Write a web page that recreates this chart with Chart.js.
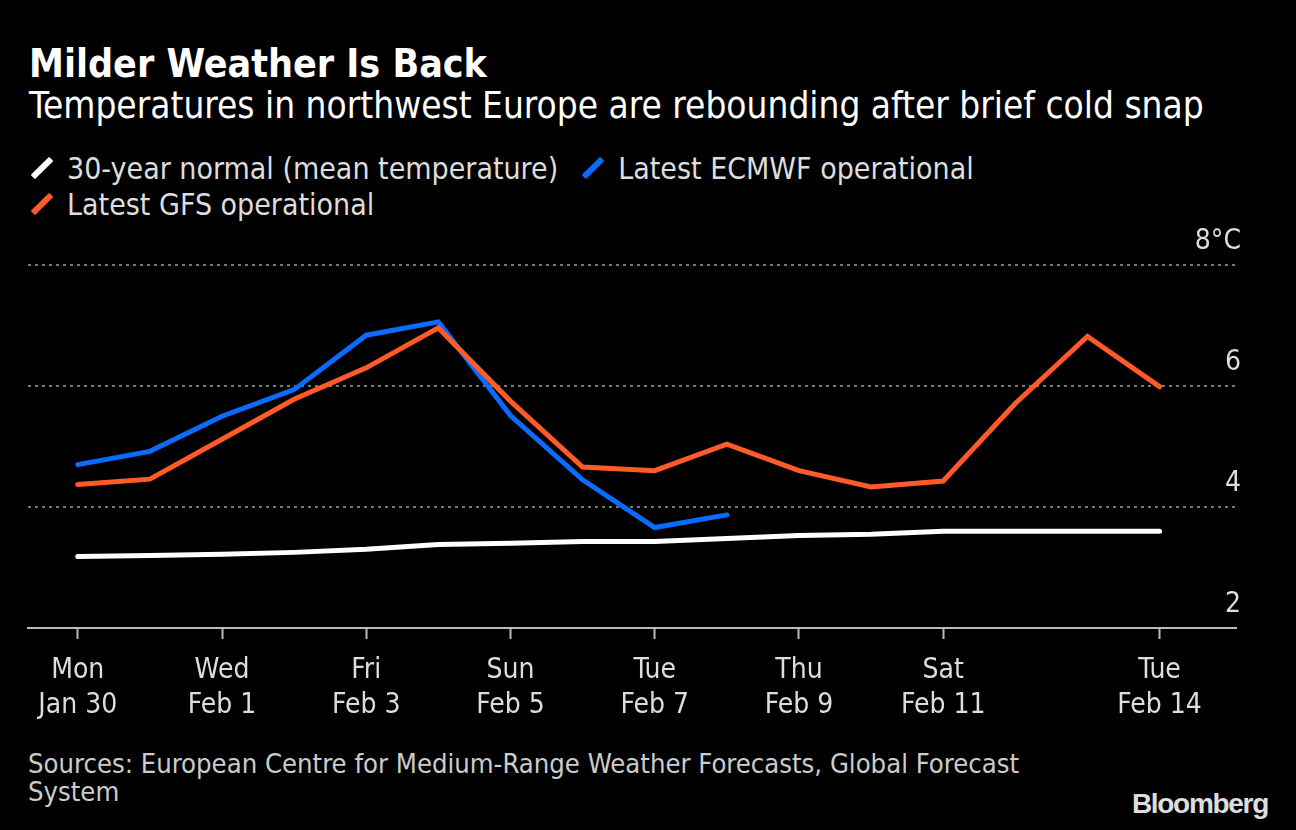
<!DOCTYPE html>
<html>
<head>
<meta charset="utf-8">
<script src="https://cdn.jsdelivr.net/npm/chart.js@4/dist/chart.umd.min.js"></script>
<style>
  body { margin: 0; background: #000; width: 1296px; height: 830px; overflow: hidden; position: relative;
         font-family: "DejaVu Sans Condensed", "DejaVu Sans", sans-serif; color: #ddd; }
  #title { position: absolute; left: 29px; top: 41px; font-size: 39px; font-weight: bold; color: #fff; }
  #subtitle { position: absolute; left: 29px; top: 84px; font-size: 36.7px; color: #fff; }
  #legend { position: absolute; left: 26px; top: 150px; width: 1000px; display: flex; flex-wrap: wrap; }
  .item { display: flex; align-items: center; margin-right: 19px; font-size: 30px; height: 36px; }
  .mark { width: 6px; height: 26px; transform: rotate(45deg); margin: 0 22px 0 13px; border-radius: 1px; }
  #wrap { position: absolute; left: 0; top: 220px; width: 1296px; height: 517px; }
  #source { position: absolute; left: 28px; top: 750px; font-size: 27.2px; line-height: 28px; color: #ccc; }
  #logo { position: absolute; right: 28px; top: 788px; font-family: "Liberation Sans", Arial, sans-serif;
          font-weight: bold; font-size: 28px; letter-spacing: -1.3px; color: #ddd; }
</style>
</head>
<body>
<div id="title">Milder Weather Is Back</div>
<div id="subtitle">Temperatures in northwest Europe are rebounding after brief cold snap</div>
<div id="legend"></div>
<div id="wrap"><canvas id="tempChart"></canvas></div>
<div id="source">Sources: European Centre for Medium-Range Weather Forecasts, Global Forecast<br>System</div>
<div id="logo">Bloomberg</div>
<script>
//----data (index 0 = Jan 30)
const days = ['Jan 30', 'Jan 31', 'Feb 1', 'Feb 2', 'Feb 3', 'Feb 4', 'Feb 5', 'Feb 6',
              'Feb 7', 'Feb 8', 'Feb 9', 'Feb 10', 'Feb 11', 'Feb 12', 'Feb 13', 'Feb 14'];
const normal = [3.18, 3.20, 3.22, 3.25, 3.30, 3.38, 3.40, 3.43, 3.43, 3.48, 3.53, 3.55, 3.60, 3.60, 3.60, 3.60];
const ecmwf = [4.70, 4.92, 5.50, 5.94, 6.84, 7.06, 5.51, 4.45, 3.66, 3.87];
const gfs = [4.37, 4.46, 5.12, 5.78, 6.30, 6.96, 5.75, 4.66, 4.60, 5.04, 4.60, 4.33, 4.43, 5.71, 6.82, 5.99];

const tickDays = [0, 2, 4, 6, 8, 10, 12, 15];
const tickLabels = [['Mon', 'Jan 30'], ['Wed', 'Feb 1'], ['Fri', 'Feb 3'], ['Sun', 'Feb 5'],
                    ['Tue', 'Feb 7'], ['Thu', 'Feb 9'], ['Sat', 'Feb 11'], ['Tue', 'Feb 14']];
const yTicks = [2, 4, 6, 8];

const series = [
  { label: '30-year normal (mean temperature)', values: normal, color: '#ffffff' },
  { label: 'Latest ECMWF operational', values: ecmwf, color: '#0a6cff' },
  { label: 'Latest GFS operational', values: gfs, color: '#ff5a28' }
];

// legend
const legend = document.getElementById('legend');
series.forEach(s => {
  const item = document.createElement('div');
  item.className = 'item';
  item.innerHTML = '<span class="mark" style="background:' + s.color + '"></span>' + s.label;
  legend.appendChild(item);
});

const font = '"DejaVu Sans Condensed", "DejaVu Sans", sans-serif';

const ctx = document.getElementById('tempChart').getContext('2d');
const tempChart = new Chart(ctx, {
  type: 'line',
  data: {
    datasets: series.slice().reverse().map(s => ({
      label: s.label,
      data: s.values.map((v, i) => ({ x: i, y: v })),
      borderColor: s.color,
      borderWidth: 5,
      pointRadius: 0,
      borderCapStyle: 'round',
      borderJoinStyle: 'miter',
      tension: 0
    }))
  },
  options: {
    responsive: true,
    maintainAspectRatio: false,
    animation: false,
    layout: { padding: { left: 28, right: 50, top: 45, bottom: 0 } },
    plugins: { legend: { display: false }, tooltip: { enabled: false } },
    scales: {
      x: {
        type: 'linear',
        min: -0.69,
        max: 16.06,
        afterBuildTicks: scale => { scale.ticks = tickDays.map(v => ({ value: v })); },
        grid: { drawOnChartArea: false, drawTicks: true, tickLength: 11, tickColor: '#bbb', tickWidth: 2 },
        border: { display: true, color: '#bbb', width: 2 },
        ticks: {
          color: '#ddd',
          font: { family: font, size: 28, lineHeight: 1.25 },
          padding: 14,
          maxRotation: 0,
          autoSkip: false,
          callback: v => tickLabels[tickDays.indexOf(v)]
        }
      },
      y: {
        position: 'right',
        min: 2,
        max: 8,
        afterBuildTicks: scale => { scale.ticks = yTicks.map(v => ({ value: v })); },
        grid: {
          drawTicks: false,
          color: c => c.tick && c.tick.value === 2 ? 'rgba(0,0,0,0)' : '#777',
          lineWidth: 2
        },
        border: { display: false, dash: [3, 4] },
        ticks: {
          mirror: true,
          padding: 5,
          labelOffset: -23,
          color: '#ddd',
          font: { family: font, size: 28 },
          callback: v => v === 8 ? '8°C' : v
        }
      }
    }
  }
});
</script>
</body>
</html>
